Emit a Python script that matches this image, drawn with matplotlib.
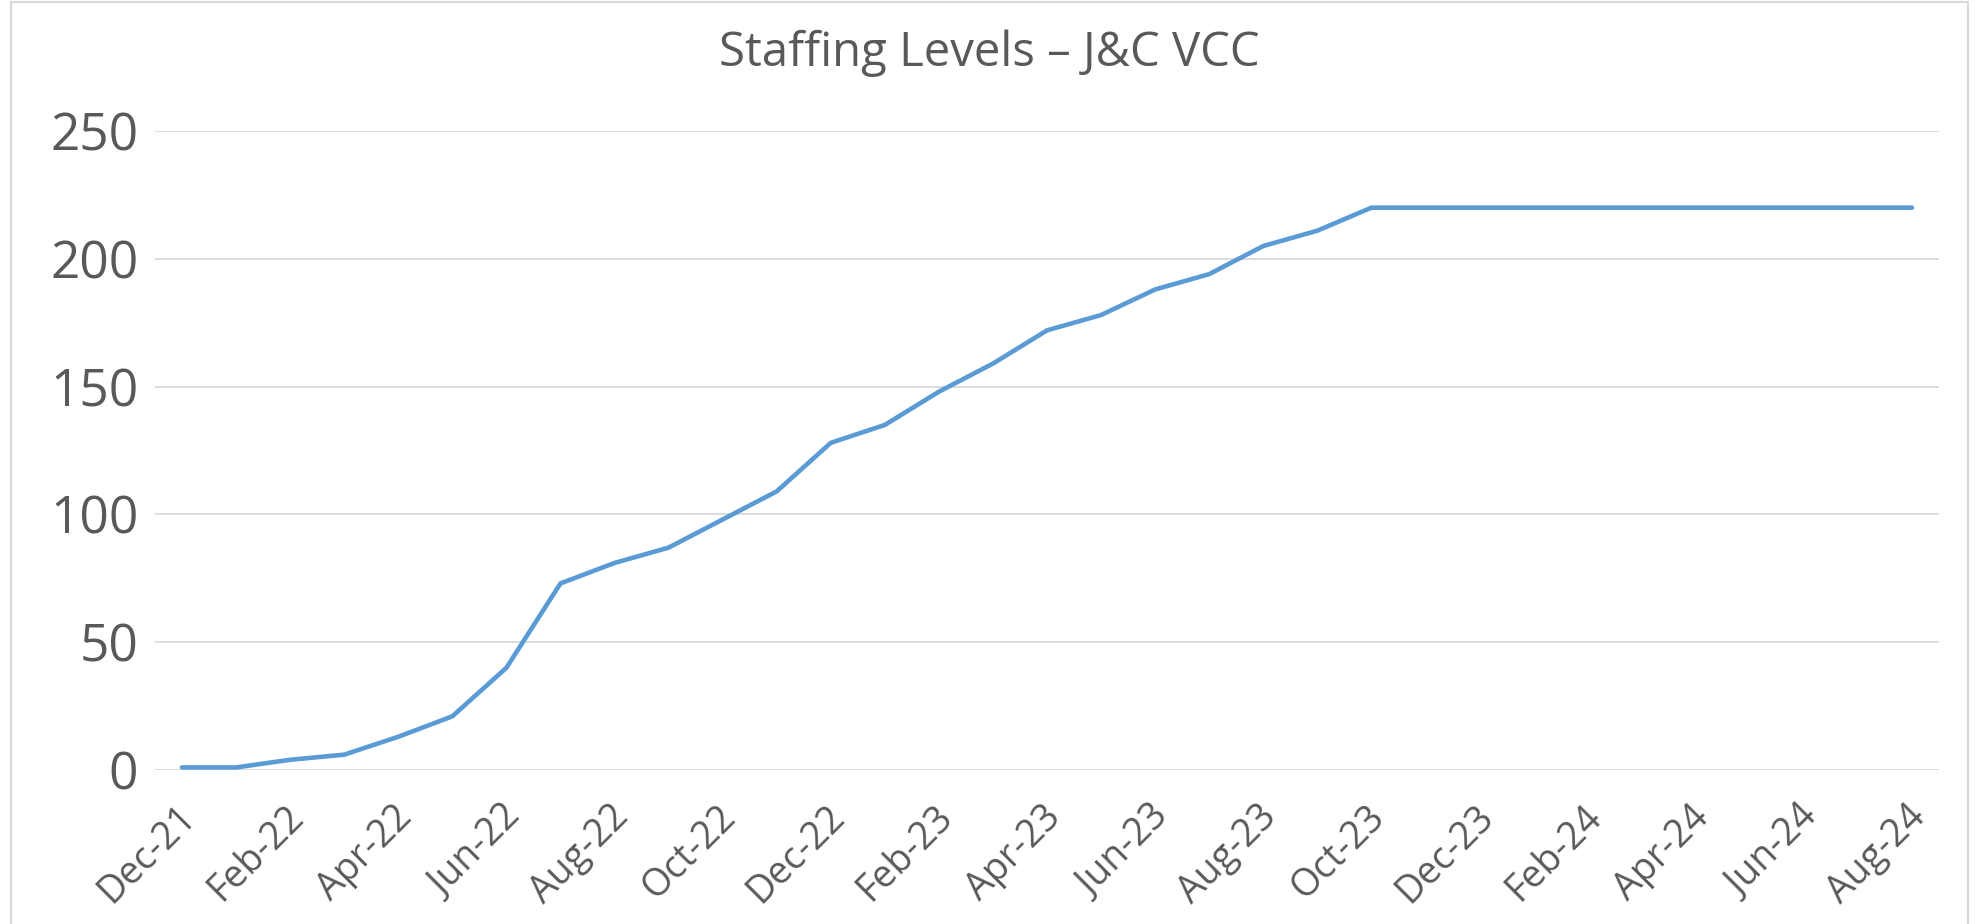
import matplotlib
matplotlib.use("Agg")
import matplotlib.pyplot as plt
import matplotlib.transforms as mtransforms
from matplotlib.patches import Rectangle

months = ["Dec-21", "Jan-22", "Feb-22", "Mar-22", "Apr-22", "May-22", "Jun-22",
          "Jul-22", "Aug-22", "Sep-22", "Oct-22", "Nov-22", "Dec-22", "Jan-23",
          "Feb-23", "Mar-23", "Apr-23", "May-23", "Jun-23", "Jul-23", "Aug-23",
          "Sep-23", "Oct-23", "Nov-23", "Dec-23", "Jan-24", "Feb-24", "Mar-24",
          "Apr-24", "May-24", "Jun-24", "Jul-24", "Aug-24"]
staff = [1, 1, 4, 6, 13, 21, 40, 73, 81, 87, 98, 109, 128, 135, 148, 159, 172,
         178, 188, 194, 205, 211, 220, 220, 220, 220, 220, 220, 220, 220, 220,
         220, 220]
yticks = [0, 50, 100, 150, 200, 250]
title = "Staffing Levels – J&C VCC"

TXT = "#595959"
plt.rcParams['font.family'] = ['Open Sans', 'DejaVu Sans']

fig = plt.figure(figsize=(19.76, 9.24), dpi=100)
ax = fig.add_axes([155 / 1976, 1 - 770 / 924, (1939 - 155) / 1976, (770 - 131) / 924])

x = list(range(len(months)))
ax.plot(x, staff, color="#5B9BD5", lw=3.3, solid_capstyle="round", solid_joinstyle="round", zorder=3)

ax.set_xlim(-0.5, len(months) - 0.5)
ax.set_ylim(0, 250)
ax.set_yticks(yticks)
ax.set_yticklabels([str(v) for v in yticks])
ax.grid(axis="y", color="#D9D9D9", lw=1.3, zorder=0)
ax.set_axisbelow(True)
for s in ax.spines.values():
    s.set_visible(False)

ax.set_xticks(x[::2])
ax.set_xticklabels(months[::2], rotation=45, rotation_mode="anchor",
                   ha="right", va="center")
ax.tick_params(axis="x", length=0, pad=30, labelsize=27, labelcolor=TXT)
ax.tick_params(axis="y", length=0, pad=12, labelsize=37, labelcolor=TXT)
shift = mtransforms.ScaledTranslation(8 / 100, 0, fig.dpi_scale_trans)
for lbl in ax.get_xticklabels():
    lbl.set_transform(lbl.get_transform() + shift)

fig.text(989 / 1976, 1 - 53 / 924, title, ha="center", va="center",
         fontsize=34, color=TXT)

fig.patches.append(Rectangle((11 / 1976, -0.1), (1968 - 11) / 1976, 1.1 - 2 / 924,
                             transform=fig.transFigure, fill=False,
                             ec="#D9D9D9", lw=1.5))

fig.savefig("out.png", dpi=100, facecolor="white")
